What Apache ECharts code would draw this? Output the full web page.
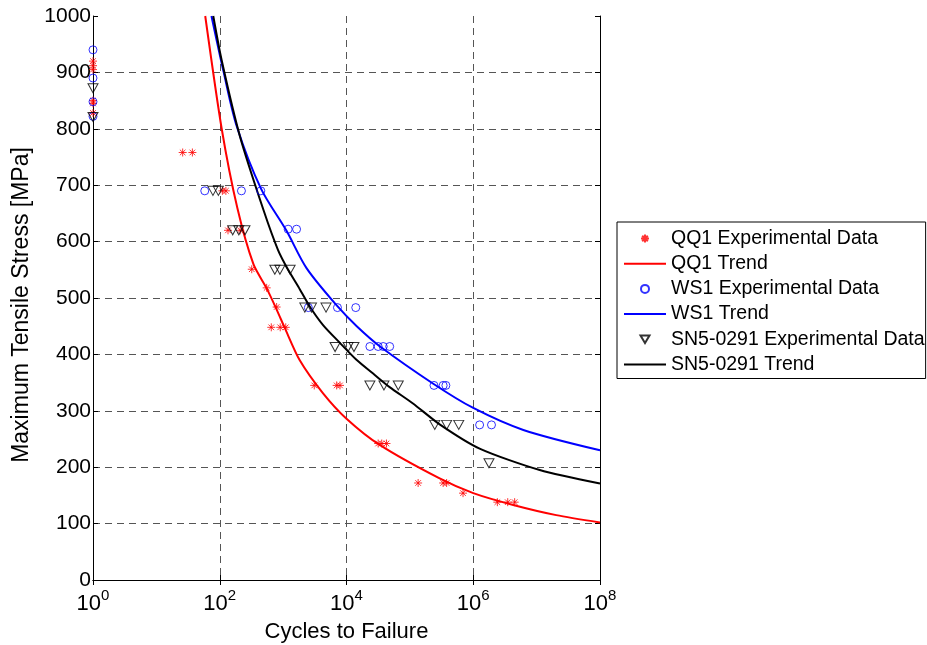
<!DOCTYPE html>
<html>
<head>
<meta charset="utf-8">
<script src="https://cdn.jsdelivr.net/npm/echarts@6/dist/echarts.min.js"></script>
<style>
html,body{margin:0;padding:0;background:#fff;}
#chart{width:927px;height:645px;}
</style>
</head>
<body>
<div id="chart"></div>
<script>
// ---- Data ----
const seriesNames = ['QQ1 Experimental Data','QQ1 Trend','WS1 Experimental Data','WS1 Trend','SN5-0291 Experimental Data','SN5-0291 Trend'];
const xTickExponents = [0, 2, 4, 6, 8];
const yTicks = [0,100,200,300,400,500,600,700,800,900,1000];

const qq1Cycles = [1,1,1,1,1,1, 26,37, 110,125, 135,210, 320, 550, 790, 650,900,1100, 3100,7000,7900, 31600,36000,42700, 135000,335000,380000, 690000, 2400000,3500000,4500000];
const qq1Stress = [920,912,905,850,845,828, 758,758, 690,690, 620,620, 551, 518, 484, 448,448,448, 345,345,345, 242,242,242, 172,172,172, 154, 138,138,138];

const ws1Cycles = [1,1,1,1, 58,220,445, 1200,1630, 2500,7200,14000, 23400,31600,38000,48000, 240000,335000,370000, 1260000,1940000];
const ws1Stress = [940,890,848,822, 690,690,690, 622,622, 483,483,483, 414,414,414,414, 345,345,345, 275,275];

const sn5Cycles = [1,1, 78,95, 160,200,250, 740,890,1290, 2200,2800,4750, 6600,10600,13100, 23400,39000,65600, 247000,380000,590000, 1770000];
const sn5Stress = [872,821, 690,690, 620,620,620, 550,550,550, 483,483,483, 413,413,413, 345,345,345, 275,275,275, 207];

const qq1TrendCycles = [59,107,190,340,550,794,1070,1820,4270,10000,33900,295000,1000000,4270000,20400000,100000000];
const qq1TrendStress = [1000,801,659,560,517,479,446,390,331,286,239,180,154,133,115,102];

const ws1TrendCycles = [74,115,186,447,1120,2340,7240,14500,33900,234000,1000000,6170000,100000000];
const ws1TrendStress = [1000,901,804,694,620,553,485,450,414,348,305,266,230];

const sn5TrendCycles = [79,107,209,490,832,1200,1740,2630,4270,7940,14500,26300,47900,112000,295000,1260000,11200000,100000000];
const sn5TrendStress = [1000,922,786,656,585,550,520,485,452,420,390,366,342,313,276,233,195,171];

function zip(a, b) { return a.map((v, i) => [v, b[i]]); }

const FONT = 'Liberation Sans';
const starPath = 'path://M5,0L5,10M0,5L10,5M1.5,1.5L8.5,8.5M8.5,1.5L1.5,8.5';
const legendTriangle = 'path://M0,0L0,0M42,0L42,0M16.5,0L25.5,0L21,7.5Z';

const chart = echarts.init(document.getElementById('chart'), null, {renderer: 'canvas'});

const gridDash = {color: '#555555', type: [7, 5], width: 1};

const option = {
  animation: false,
  backgroundColor: '#ffffff',
  textStyle: {fontFamily: FONT},
  grid: {left: 93, right: 327, top: 16, bottom: 65, containLabel: false, outerBoundsMode: 'none'},
  legend: {
    orient: 'vertical',
    left: 617,
    top: 222,
    padding: [6.5, 1, 4, 6],
    itemGap: 5.2,
    itemWidth: 42,
    itemHeight: 8,
    backgroundColor: '#ffffff',
    borderColor: '#000000',
    borderWidth: 1,
    borderRadius: 0,
    textStyle: {fontFamily: FONT, fontSize: 19.5, color: '#000000'},
    data: [
      {name: seriesNames[0]},
      {name: seriesNames[1], itemStyle: {opacity: 0}},
      {name: seriesNames[2]},
      {name: seriesNames[3], itemStyle: {opacity: 0}},
      {name: seriesNames[4], icon: legendTriangle},
      {name: seriesNames[5], itemStyle: {opacity: 0}}
    ]
  },
  xAxis: [
    {
      type: 'log', logBase: 10, min: 1, max: 1e8, interval: 2,
      position: 'bottom', z: 1,
      name: 'Cycles to Failure', nameLocation: 'middle', nameGap: 41,
      nameTextStyle: {fontFamily: FONT, fontSize: 22, color: '#000'},
      axisLine: {show: true, lineStyle: {color: '#000', width: 1}},
      axisTick: {show: true, inside: true, length: 5, lineStyle: {color: '#000'}},
      minorTick: {show: false},
      axisLabel: {
        margin: 13,
        formatter: function (v) { return '{b|10}{s|' + Math.round(Math.log10(v)) + '}'; },
        rich: {
          b: {fontFamily: FONT, fontSize: 22, lineHeight: 22, verticalAlign: 'bottom', color: '#000'},
          s: {fontFamily: FONT, fontSize: 15, lineHeight: 15, verticalAlign: 'bottom', padding: [0, 0, 12, 0], color: '#000'}
        }
      },
      splitLine: {show: true, showMinLine: false, showMaxLine: false, lineStyle: gridDash}
    },
    {
      type: 'log', logBase: 10, min: 1, max: 1e8, interval: 2,
      position: 'top', z: 3,
      axisLine: {show: true, lineStyle: {color: '#000', width: 1}},
      axisTick: {show: true, inside: true, length: 5, lineStyle: {color: '#000'}},
      axisLabel: {show: false},
      splitLine: {show: false}
    }
  ],
  yAxis: [
    {
      type: 'value', min: 0, max: 1000, interval: 100,
      position: 'left', z: 1,
      name: 'Maximum Tensile Stress [MPa]', nameLocation: 'middle', nameGap: 47.5,
      nameTextStyle: {fontFamily: FONT, fontSize: 23, color: '#000', padding: [0, 14, 0, 0]},
      axisLine: {show: true, lineStyle: {color: '#000', width: 1}},
      axisTick: {show: true, inside: true, length: 5, lineStyle: {color: '#000'}},
      axisLabel: {margin: 2, fontFamily: FONT, fontSize: 21, color: '#000',
        formatter: function (v) { return String(v); }},
      splitLine: {show: true, showMinLine: false, showMaxLine: false, lineStyle: gridDash}
    },
    {
      type: 'value', min: 0, max: 1000, interval: 100,
      position: 'right', z: 3,
      axisLine: {show: true, lineStyle: {color: '#000', width: 1}},
      axisTick: {show: true, inside: true, length: 5, lineStyle: {color: '#000'}},
      axisLabel: {show: false},
      splitLine: {show: false}
    }
  ],
  series: [
    {
      name: seriesNames[0], type: 'scatter', xAxisIndex: 0, yAxisIndex: 0,
      symbol: starPath, symbolSize: 8,
      itemStyle: {color: '#ff0000', borderColor: '#ff0000', borderWidth: 1},
      data: zip(qq1Cycles, qq1Stress), z: 4
    },
    {
      name: seriesNames[1], type: 'line', xAxisIndex: 0, yAxisIndex: 0,
      symbol: 'none', smooth: 0.25,
      lineStyle: {color: '#ff0000', width: 2},
      itemStyle: {color: '#ff0000'},
      data: zip(qq1TrendCycles, qq1TrendStress), z: 3
    },
    {
      name: seriesNames[2], type: 'scatter', xAxisIndex: 0, yAxisIndex: 0,
      symbol: 'circle', symbolSize: 8,
      itemStyle: {color: 'rgba(255,255,255,0)', borderColor: '#0000ff', borderWidth: 1},
      data: zip(ws1Cycles, ws1Stress), z: 4
    },
    {
      name: seriesNames[3], type: 'line', xAxisIndex: 0, yAxisIndex: 0,
      symbol: 'none', smooth: 0.3,
      lineStyle: {color: '#0000ff', width: 2},
      itemStyle: {color: '#0000ff'},
      data: zip(ws1TrendCycles, ws1TrendStress), z: 3
    },
    {
      name: seriesNames[4], type: 'scatter', xAxisIndex: 0, yAxisIndex: 0,
      symbol: 'triangle', symbolRotate: 180, symbolSize: [10, 9],
      itemStyle: {color: 'rgba(255,255,255,0)', borderColor: '#000000', borderWidth: 1},
      data: zip(sn5Cycles, sn5Stress), z: 4
    },
    {
      name: seriesNames[5], type: 'line', xAxisIndex: 0, yAxisIndex: 0,
      symbol: 'none', smooth: 0.25,
      lineStyle: {color: '#000000', width: 2},
      itemStyle: {color: '#000000'},
      data: zip(sn5TrendCycles, sn5TrendStress), z: 3
    }
  ]
};
chart.setOption(option);
</script>
</body>
</html>
